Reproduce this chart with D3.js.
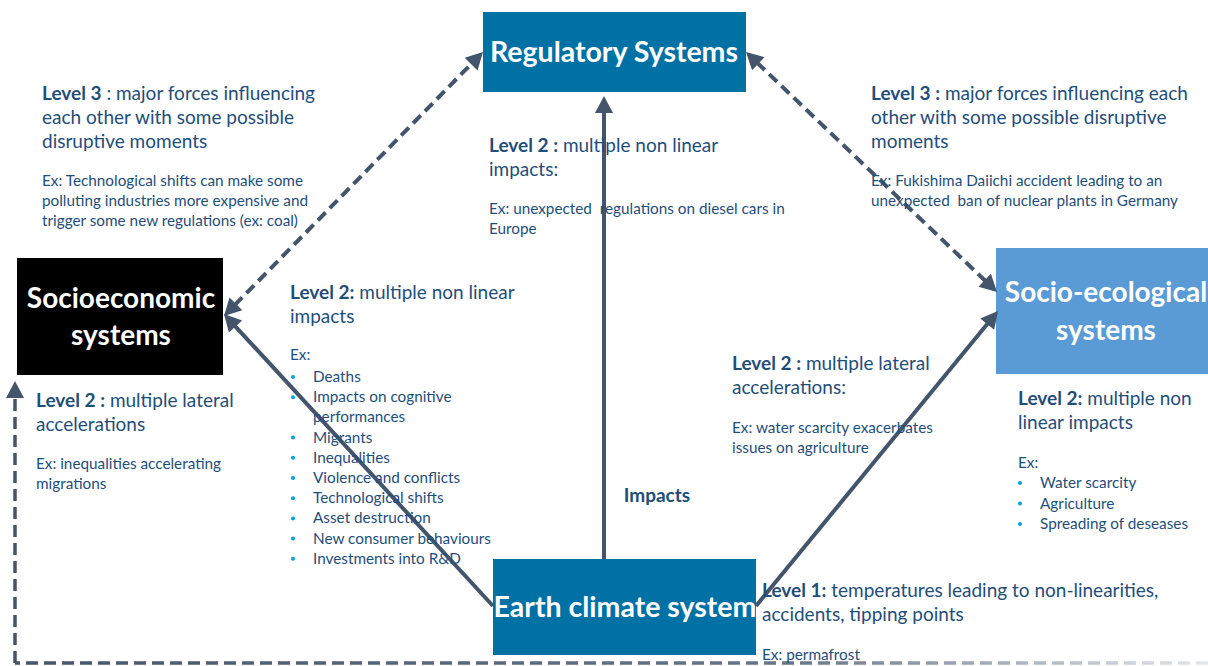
<!DOCTYPE html>
<html><head><meta charset="utf-8">
<script src="https://cdn.jsdelivr.net/npm/d3@7"></script>
<style>html,body{margin:0;padding:0;background:#fff;overflow:hidden}svg{display:block}</style>
</head><body>
<script>
// ---- data ----
const nodeIds = ["reg", "socio", "eco", "earth"];
const nodeLabels = [["Regulatory Systems"], ["Socioeconomic", "systems"], ["Socio-ecological", "systems"], ["Earth climate system"]];
const edgeFrom = ["earth", "earth", "earth", "socio", "reg", "eco"];
const edgeTo = ["reg", "socio", "eco", "reg", "eco", "socio"];
const edgeDashed = [false, false, false, true, true, true];
const edgeBoth = [false, false, false, true, true, false];

const blockHeads = [
  [["Level 3", " : major forces influencing"], ["", "each other with some possible"], ["", "disruptive moments"]],
  [["Level 2 :", " multiple non linear"], ["", "impacts:"]],
  [["Level 3 :", " major forces influencing each"], ["", "other with some possible disruptive"], ["", "moments"]],
  [["Level 2 :", " multiple lateral"], ["", "accelerations"]],
  [["Level 2:", " multiple non linear"], ["", "impacts"]],
  [["Level 2 :", " multiple lateral"], ["", "accelerations:"]],
  [["Level 2:", " multiple non"], ["", "linear impacts"]],
  [["Level 1:", " temperatures leading to non-linearities,"], ["", "accidents, tipping points"]]
];
const blockEx = [
  ["Ex: Technological shifts can make some", "polluting industries more expensive and", "trigger some new regulations (ex: coal)"],
  ["Ex: unexpected  regulations on diesel cars in", "Europe"],
  ["Ex: Fukishima Daiichi accident leading to an", "unexpected  ban of nuclear plants in Germany"],
  ["Ex: inequalities accelerating", "migrations"],
  ["Ex:"],
  ["Ex: water scarcity exacerbates", "issues on agriculture"],
  ["Ex:"],
  ["Ex: permafrost"]
];
const socioBullets = ["Deaths", "Impacts on cognitive|performances", "Migrants", "Inequalities", "Violence and conflicts", "Technological shifts", "Asset destruction", "New consumer behaviours", "Investments into R&D"];
const ecoBullets = ["Water scarcity", "Agriculture", "Spreading of deseases"];
const centerLabel = "Impacts";

// ---- layout & style ----
const W = 1208, H = 666;
const boxPos = {
  reg:   {x: 483, y: 12,  w: 263, h: 80,  fill: "#0071A4", fs: 28.5, cx: 614},
  socio: {x: 17,  y: 258, w: 206, h: 117, fill: "#000000", fs: 28, cx: 121},
  eco:   {x: 996, y: 248, w: 212, h: 126, fill: "#5B9BD5", fs: 28, cx: 1106},
  earth: {x: 493, y: 559, w: 263, h: 96,  fill: "#0071A4", fs: 28.5, cx: 625}
};
const edgePts = [
  [[604, 559], [604, 96]],
  [[493, 606], [224, 314]],
  [[756, 606], [998, 311]],
  [[224, 316], [483, 52]],
  [[746, 52], [997, 292]],
  null
];
const blockPos = [
  {x: 42, y: 100, ey: 186}, {x: 489, y: 152, ey: 214}, {x: 871, y: 100, ey: 186},
  {x: 36, y: 407, ey: 469}, {x: 290, y: 299, ey: 360}, {x: 732, y: 370, ey: 433},
  {x: 1018, y: 405, ey: 468}, {x: 762, y: 597, ey: 660}
];
const txtColor = "#1F4E79";
const lineColor = "#44546A";
const font = "Lato, 'Liberation Sans', sans-serif";
const headFs = 19, exFs = 15.3;

const svg = d3.select("body").append("svg").attr("width", W).attr("height", H);
const defs = svg.append("defs");
const grad = defs.append("linearGradient").attr("id", "fade").attr("gradientUnits", "userSpaceOnUse")
  .attr("x1", 0).attr("y1", 0).attr("x2", W).attr("y2", 0);
grad.append("stop").attr("offset", "0%").attr("stop-color", lineColor);
grad.append("stop").attr("offset", "65%").attr("stop-color", "#66758a");
grad.append("stop").attr("offset", "100%").attr("stop-color", "#e4e6ea");

// boxes
nodeIds.forEach((id, i) => {
  const b = boxPos[id];
  svg.append("rect").attr("x", b.x).attr("y", b.y).attr("width", b.w).attr("height", b.h).attr("fill", b.fill);
});

// arrows
const AL = 17, AW = 9;
function head(tip, from) {
  const dx = tip[0] - from[0], dy = tip[1] - from[1];
  const L = Math.hypot(dx, dy), ux = dx / L, uy = dy / L;
  const bx = tip[0] - ux * AL, by = tip[1] - uy * AL;
  svg.append("path").attr("d", `M${tip[0]},${tip[1]}L${bx - uy * AW},${by + ux * AW}L${bx + uy * AW},${by - ux * AW}Z`).attr("fill", lineColor);
  return [tip[0] - ux * (AL - 2), tip[1] - uy * (AL - 2)];
}
edgeFrom.forEach((f, i) => {
  const pts = edgePts[i];
  if (!pts) return;
  let a = pts[0], b = pts[1];
  const b2 = head(b, a);
  let a2 = a;
  if (edgeBoth[i]) a2 = head(a, b);
  svg.append("line").attr("x1", a2[0]).attr("y1", a2[1]).attr("x2", b2[0]).attr("y2", b2[1])
    .attr("stroke", lineColor).attr("stroke-width", 4)
    .attr("stroke-dasharray", edgeDashed[i] ? "11,6" : null);
});
// bottom loop eco -> socio
const tipL = [15, 381];
const baseL = head(tipL, [15, 663]);
svg.append("path").attr("d", `M${W},663L15,663`).attr("fill", "none")
  .attr("stroke", "url(#fade)").attr("stroke-width", 3.5).attr("stroke-dasharray", "12,6");
svg.append("path").attr("d", `M15,663L15,${baseL[1]}`).attr("fill", "none")
  .attr("stroke", lineColor).attr("stroke-width", 3.5).attr("stroke-dasharray", "12,6");

// box labels
nodeIds.forEach((id, i) => {
  const b = boxPos[id];
  const lines = nodeLabels[i];
  const lh = b.fs * 1.34;
  const y0 = b.y + b.h / 2 - (lines.length - 1) * lh / 2;
  lines.forEach((l, j) => {
    svg.append("text").attr("x", b.cx).attr("y", y0 + j * lh).attr("dy", "0.35em")
      .attr("text-anchor", "middle").attr("fill", "#fff").attr("font-family", font)
      .attr("font-weight", "bold").attr("font-size", b.fs).text(l);
  });
});

// text blocks
blockHeads.forEach((lines, i) => {
  const p = blockPos[i];
  lines.forEach((seg, j) => {
    const t = svg.append("text").attr("x", p.x).attr("y", p.y + j * 24).attr("font-family", font)
      .attr("font-size", headFs).attr("fill", txtColor);
    if (seg[0]) t.append("tspan").attr("font-weight", "bold").text(seg[0]);
    t.append("tspan").attr("xml:space", "preserve").text(seg[1]);
  });
  blockEx[i].forEach((l, j) => {
    svg.append("text").attr("x", p.x).attr("y", p.ey + j * 20).attr("font-family", font)
      .attr("font-size", exFs).attr("fill", txtColor).attr("xml:space", "preserve").text(l);
  });
});

function bullets(items, x, y0, step) {
  let y = y0;
  items.forEach(it => {
    const parts = it.split("|");
    svg.append("circle").attr("cx", x + 3).attr("cy", y - 5).attr("r", 2).attr("fill", "#00A0DF");
    parts.forEach((p, k) => {
      svg.append("text").attr("x", x + 23).attr("y", y).attr("font-family", font)
        .attr("font-size", exFs).attr("fill", txtColor).text(p);
      y += step;
    });
  });
}
bullets(socioBullets, 290, 382, 20.2);
bullets(ecoBullets, 1017, 488, 20.5);

svg.append("text").attr("x", 657).attr("y", 502).attr("text-anchor", "middle").attr("font-family", font)
  .attr("font-size", headFs).attr("font-weight", "bold").attr("fill", txtColor).text(centerLabel);
</script>
</body></html>
